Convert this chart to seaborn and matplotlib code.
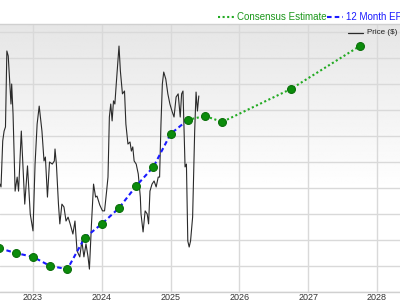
import numpy as np
import pandas as pd
import seaborn as sns
import matplotlib.pyplot as plt
from matplotlib.lines import Line2D

# ---- data (y in chart units, gridline spacing = 1) ----
price_year = [2022.52, 2022.535, 2022.56, 2022.58, 2022.60, 2022.62, 2022.64, 2022.68, 2022.69, 2022.71,
              2022.74, 2022.77, 2022.79, 2022.83, 2022.88, 2022.92, 2022.96, 2023.00, 2023.03, 2023.06,
              2023.09, 2023.13, 2023.16, 2023.18, 2023.21, 2023.24, 2023.28, 2023.31, 2023.32, 2023.34,
              2023.37, 2023.39, 2023.42, 2023.45, 2023.48, 2023.51, 2023.54, 2023.58, 2023.61, 2023.64,
              2023.68, 2023.71, 2023.74, 2023.77, 2023.80, 2023.82, 2023.85, 2023.88, 2023.91, 2023.93,
              2023.97, 2024.01, 2024.04, 2024.07, 2024.09, 2024.11, 2024.13, 2024.15, 2024.17, 2024.19,
              2024.21, 2024.25, 2024.27, 2024.30, 2024.33, 2024.35, 2024.38, 2024.41, 2024.43, 2024.45,
              2024.47, 2024.50, 2024.53, 2024.56, 2024.57, 2024.60, 2024.63, 2024.66, 2024.68, 2024.70,
              2024.73, 2024.76, 2024.79, 2024.82, 2024.84, 2024.86, 2024.88, 2024.90, 2024.93, 2024.96,
              2024.99, 2025.02, 2025.05, 2025.08, 2025.11, 2025.14, 2025.16, 2025.18, 2025.20, 2025.21,
              2025.23, 2025.25, 2025.27, 2025.29, 2025.32, 2025.35, 2025.37, 2025.39, 2025.41]
price_value = [4.15, 4.04, 5.81, 6.19, 6.35, 9.27, 9.08, 7.23, 8.00, 6.85,
               3.88, 4.42, 3.88, 6.19, 3.38, 4.85, 3.00, 2.35, 4.92, 6.46,
               7.15, 6.19, 5.04, 5.19, 3.65, 5.00, 4.92, 5.04, 5.50, 4.92,
               3.38, 2.62, 3.38, 3.27, 2.73, 2.88, 2.62, 2.23, 2.73, 1.58,
               1.35, 1.96, 1.35, 1.85, 1.35, 0.88, 2.62, 4.15, 3.65, 3.69,
               3.35, 3.12, 3.12, 3.88, 4.42, 6.73, 7.23, 6.58, 7.35, 7.23,
               8.00, 9.46, 8.50, 7.62, 7.73, 6.46, 5.69, 5.77, 5.42, 5.58,
               5.04, 4.92, 4.54, 3.65, 3.00, 2.31, 3.12, 3.00, 2.62, 3.88,
               4.15, 4.27, 4.04, 4.42, 4.42, 6.46, 8.00, 8.46, 8.19, 7.62,
               7.23, 6.96, 6.73, 7.50, 7.62, 6.73, 7.62, 7.73, 5.81, 4.81,
               4.92, 1.96, 1.73, 1.96, 2.88, 6.19, 7.69, 6.96, 7.54]

eps_year = [2022.5, 2022.75, 2023.0, 2023.25, 2023.5, 2023.75, 2024.0, 2024.25,
            2024.5, 2024.75, 2025.0, 2025.25]
eps_value = [1.69, 1.50, 1.35, 1.00, 0.88, 2.08, 2.62, 3.23, 4.08, 4.81, 6.08, 6.62]

est_year = [2025.25, 2025.5, 2025.75, 2026.75, 2027.75]
est_value = [6.62, 6.77, 6.54, 7.81, 9.46]

year_ticks = [2023, 2024, 2025, 2026, 2027, 2028]
year_labels = ["2023", "2024", "2025", "2026", "2027", "2028"]

# ---- styling ----
sns.set_theme(style="white")
plt.rcParams['font.family'] = ['Liberation Sans', 'DejaVu Sans']

W, H = 400, 300
fig = plt.figure(figsize=(4, 3), dpi=100)
fig.patch.set_facecolor("white")
ax = fig.add_axes([0, 8 / H, 1, 268 / H])

px_per_year = 68.8
xmin = 2023 - 33 / px_per_year
xmax = 2023 + (W - 33) / px_per_year
ymin, ymax = 0, 268 / 26

# background gradient (light gray at top fading to white)
n = 200
frac = np.linspace(0, 1, n)
shade = np.clip(0.90 + 0.10 * frac / 0.62, 0, 1)
grad = np.tile(shade[:, None], (1, 2))
ax.imshow(grad, extent=[xmin, xmax, ymin, ymax], aspect="auto",
          cmap="gray", vmin=0, vmax=1, zorder=0, interpolation="bilinear")

GREEN = "#1a961a"
BLUE = "#1a1aff"

sns.lineplot(x=price_year, y=price_value, ax=ax, color="#2a2a2a", lw=0.8,
             sort=False, estimator=None, zorder=3)
sns.lineplot(x=est_year, y=est_value, ax=ax, color="#22aa22", lw=1.5,
             linestyle=(0, (1, 1.2)), sort=False, estimator=None, zorder=4)
sns.lineplot(x=eps_year, y=eps_value, ax=ax, color=BLUE, lw=1.5,
             linestyle=(0, (2.2, 1.5)), sort=False, estimator=None, zorder=4)
sns.scatterplot(x=eps_year + est_year[1:], y=eps_value + est_value[1:], ax=ax,
                color="#0b8c0b", edgecolor="#0a6f0a", s=32, linewidth=0.8, zorder=5)

ax.set_xlim(xmin, xmax)
ax.set_ylim(ymin, ymax)
ax.set_xticks(year_ticks)
ax.set_xticklabels(year_labels, fontsize=6.5, color="#333333")
ax.set_yticks(np.arange(0, 11, 1))
ax.set_yticklabels([])
ax.tick_params(axis="x", length=0, pad=1)
ax.tick_params(axis="y", length=0)
ax.set_axisbelow(True)
ax.grid(True, color="#d9d9d9", lw=1.0)
for side in ["left", "right"]:
    ax.spines[side].set_visible(False)
for side in ["top", "bottom"]:
    ax.spines[side].set_color("#d0d0d0")
    ax.spines[side].set_linewidth(1.0)
ax.set_xlabel("")
ax.set_ylabel("")

# ---- legends (figure coords) ----
def fx(px):
    return px / W

def fy(py):
    return 1 - py / H

fig.add_artist(Line2D([fx(218), fx(234)], [fy(17), fy(17)], color="#22aa22", lw=1.5,
                      linestyle=(0, (1, 1.2))))
fig.text(fx(237), fy(17), "Consensus Estimate", color=GREEN, fontsize=7.0,
         va="center", ha="left")
fig.add_artist(Line2D([fx(327), fx(343)], [fy(17), fy(17)], color=BLUE, lw=1.5,
                      linestyle=(0, (2.2, 1.5))))
fig.text(fx(346), fy(17), "12 Month EPS", color=BLUE, fontsize=7.0,
         va="center", ha="left")

fig.add_artist(Line2D([fx(348), fx(363)], [fy(33), fy(33)], color="#2a2a2a", lw=0.9))
fig.text(fx(367), fy(33), "Price ($)", color="#222222", fontsize=5.8,
         va="center", ha="left")

fig.savefig("out.png", dpi=100)
